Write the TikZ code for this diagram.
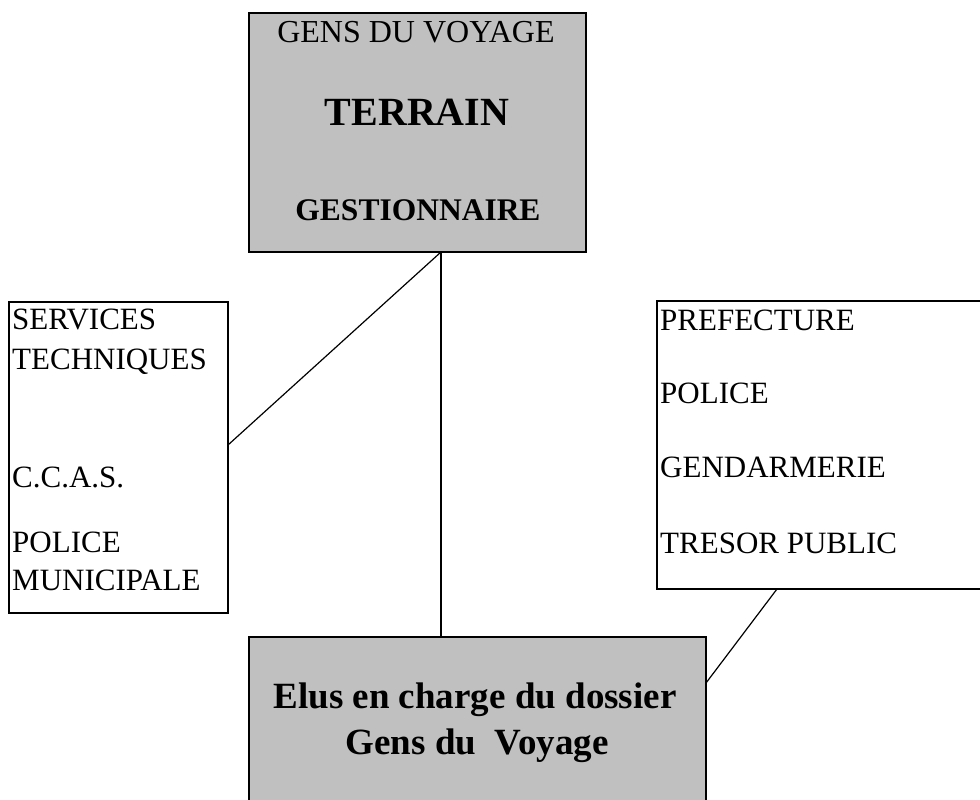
\documentclass[tikz,border=0pt]{standalone}
\usepackage{fontspec}
\setmainfont{Liberation Serif}
\definecolor{boxgray}{HTML}{C0C0C0}
\tikzset{
  box/.style={draw, line width=1.2pt, anchor=north west, inner sep=0pt, outer sep=0pt},
  graybox/.style={box, fill=boxgray},
  entry/.style={anchor=base west, inner sep=0pt, font=\fontsize{31}{37}\selectfont},
  title/.style={anchor=base, inner sep=0pt},
  link/.style={line width=1.2pt},
}
\begin{document}
\begin{tikzpicture}[x=1pt, y=-1pt]
  \useasboundingbox (0,0) rectangle (980,800);
  % boxes
  \node[graybox, minimum width=337pt, minimum height=239pt] (terrain) at (249,13) {};
  \node[box, minimum width=219pt, minimum height=311pt] (services) at (9,302) {};
  \node[box, minimum width=340pt, minimum height=288pt] (prefecture) at (657,301) {};
  \node[graybox, minimum width=457pt, minimum height=180pt] (elus) at (249,637) {};
  % top box
  \node[title, font=\fontsize{32}{38}\selectfont] (gens) at (416,43) {GENS DU VOYAGE};
  \node[title, font=\bfseries\fontsize{40}{48}\selectfont] (terrainlbl) at (417,125) {TERRAIN};
  \node[title, font=\bfseries\fontsize{31.5}{38}\selectfont] (gestion) at (418,220) {GESTIONNAIRE};
  % left box
  \node[entry] (services1) at (12,329) {SERVICES};
  \node[entry] (services2) at (12,369) {TECHNIQUES};
  \node[entry] (ccas)      at (12,487) {C.C.A.S.};
  \node[entry] (police1)   at (12,552) {POLICE};
  \node[entry] (police2)   at (12,590) {MUNICIPALE};
  % right box
  \node[entry] (pref)   at (660,330) {PREFECTURE};
  \node[entry] (police) at (660,403) {POLICE};
  \node[entry] (gend)   at (660,477) {GENDARMERIE};
  \node[entry] (tresor) at (660,553) {TRESOR PUBLIC};
  % bottom box
  \node[title, font=\bfseries\fontsize{37}{44}\selectfont] (elus1) at (475,708) {Elus en charge du dossier};
  \node[title, font=\bfseries\fontsize{37}{44}\selectfont] (elus2) at (477,754) {Gens du\ \ Voyage};
  % lines
  \coordinate (hub) at ([xshift=23.5pt]terrain.south);
  \draw[link] (hub) -- ([yshift=12.5pt]services.east);
  \draw[link] (hub) -- (hub |- elus.north);
  \draw[link] ([xshift=120pt]prefecture.south west) -- ([yshift=44pt]elus.east);
\end{tikzpicture}
\end{document}
